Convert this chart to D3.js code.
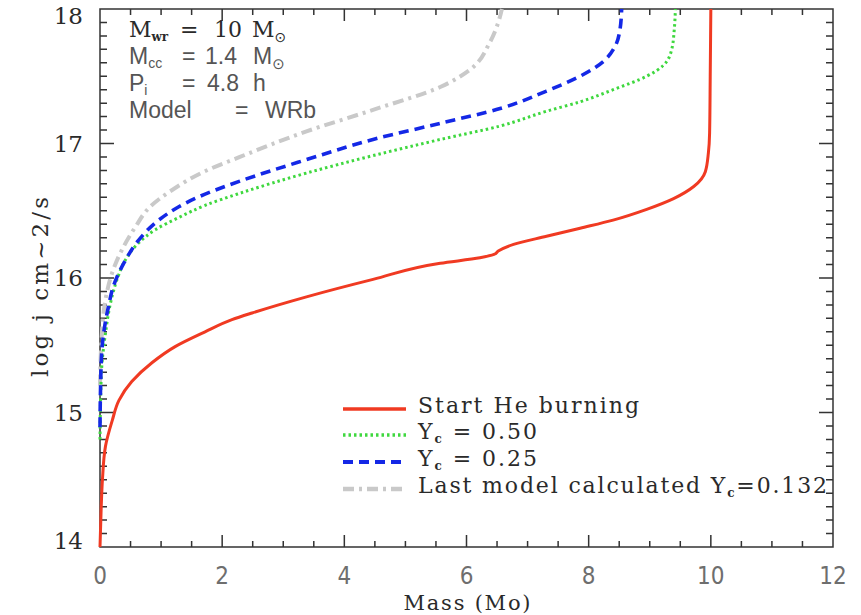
<!DOCTYPE html>
<html>
<head>
<meta charset="utf-8">
<script src="https://cdn.jsdelivr.net/npm/d3@7/dist/d3.min.js"></script>
<style>
  html, body { margin: 0; padding: 0; background: #fff; }
  svg { display: block; }
</style>
</head>
<body>
<script>
// Specific angular momentum profiles, log j versus enclosed mass
const startHeMass = [0, 0.02, 0.04, 0.09, 0.2, 0.31, 0.52, 0.85, 1.23, 1.72, 2.16, 2.49, 3.38, 4.47, 5.57, 6.22, 6.45, 6.52, 6.77, 7.31, 7.86, 8.40, 8.95, 9.39, 9.72, 9.91, 9.96, 9.98, 9.99, 10.0];
const startHeLogJ = [14.0, 14.3, 14.5, 14.75, 14.94, 15.09, 15.23, 15.37, 15.49, 15.60, 15.69, 15.74, 15.86, 15.99, 16.11, 16.15, 16.175, 16.2, 16.25, 16.31, 16.37, 16.43, 16.51, 16.59, 16.68, 16.79, 16.93, 17.08, 17.5, 18.0];

const yc050Mass = [0, 0.01, 0.03, 0.09, 0.17, 0.28, 0.41, 0.63, 0.91, 1.29, 1.72, 2.29, 3.38, 4.47, 5.57, 6.55, 7.31, 7.86, 8.40, 8.95, 9.22, 9.36, 9.40, 9.42];
const yc050LogJ = [14.8, 15.1, 15.35, 15.59, 15.81, 15.99, 16.13, 16.26, 16.36, 16.45, 16.54, 16.63, 16.78, 16.91, 17.03, 17.13, 17.24, 17.31, 17.40, 17.50, 17.58, 17.70, 17.84, 18.0];

const yc025Mass = [0, 0.01, 0.03, 0.08, 0.14, 0.22, 0.39, 0.63, 0.96, 1.29, 1.6, 2.29, 3.38, 4.47, 5.57, 6.55, 7.31, 7.86, 8.24, 8.43, 8.51, 8.54];
const yc025LogJ = [14.89, 15.2, 15.46, 15.65, 15.79, 15.94, 16.11, 16.28, 16.43, 16.53, 16.60, 16.72, 16.88, 17.03, 17.15, 17.26, 17.39, 17.50, 17.61, 17.72, 17.84, 18.0];

const lastMass = [0, 0.02, 0.09, 0.2, 0.36, 0.58, 0.82, 1.2, 1.7, 2.29, 3.38, 4.47, 5.57, 6.06, 6.38, 6.52, 6.58];
const lastLogJ = [15.2, 15.5, 15.84, 16.04, 16.21, 16.38, 16.53, 16.66, 16.79, 16.90, 17.09, 17.25, 17.42, 17.55, 17.75, 17.90, 18.0];

const xTickValues = [0, 2, 4, 6, 8, 10, 12];
const yTickValues = [14, 15, 16, 17, 18];
const xMinorValues = [0.5, 1, 1.5, 2.5, 3, 3.5, 4.5, 5, 5.5, 6.5, 7, 7.5, 8.5, 9, 9.5, 10.5, 11, 11.5];
const yMinorValues = [];
for (let k = 140; k <= 180; k++) if (k % 10 !== 0) yMinorValues.push(k / 10);
const legendLabels = ["Start He burning", "Y_c = 0.50", "Y_c = 0.25", "Last model calculated Y_c=0.132"];

const W = 861, H = 615;
const plot = { left: 100, right: 833, top: 9, bottom: 547 };

const svg = d3.select("body").append("svg").attr("width", W).attr("height", H);

const x = d3.scaleLinear().domain([0, 12]).range([plot.left, plot.right]);
const y = d3.scaleLinear().domain([14, 18]).range([plot.bottom, plot.top]);

const serif = "'DejaVu Serif', 'Liberation Serif', serif";
const sans = "'Liberation Sans', Arial, sans-serif";
const narrow = "'Liberation Sans Narrow', 'DejaVu Sans Condensed', sans-serif";

// Frame plus inward tick marks, all in one path
const fp = d3.path();
fp.rect(plot.left, plot.top, plot.right - plot.left, plot.bottom - plot.top);
function xTick(v, len) {
  fp.moveTo(x(v), plot.bottom); fp.lineTo(x(v), plot.bottom - len);
  fp.moveTo(x(v), plot.top); fp.lineTo(x(v), plot.top + len);
}
function yTick(v, len) {
  fp.moveTo(plot.left, y(v)); fp.lineTo(plot.left + len, y(v));
  fp.moveTo(plot.right, y(v)); fp.lineTo(plot.right - len, y(v));
}
xMinorValues.forEach(v => xTick(v, 6));
xTickValues.forEach(v => xTick(v, 12));
yMinorValues.forEach(v => yTick(v, 7));
yTickValues.forEach(v => yTick(v, 14));
svg.append("path").attr("d", fp.toString())
  .attr("fill", "none").attr("stroke", "#333").attr("stroke-width", 1.5);

// Tick labels
svg.append("g").selectAll("text").data(xTickValues).join("text")
  .attr("x", d => x(d)).attr("y", 584)
  .attr("text-anchor", "middle")
  .attr("font-family", narrow).attr("font-size", 24).attr("fill", "#6e6e6e")
  .text(d3.format("d"));
svg.append("g").selectAll("text").data(yTickValues).join("text")
  .attr("x", 83).attr("y", d => Math.max(16, Math.min(541, y(d)))).attr("dy", "0.36em")
  .attr("text-anchor", "end")
  .attr("font-family", serif).attr("font-size", 23).attr("fill", "#2a2a2a")
  .text(d3.format("d"));

// Curves
svg.append("defs").append("clipPath").attr("id", "plotClip")
  .append("rect").attr("x", plot.left - 2).attr("y", plot.top - 2)
  .attr("width", plot.right - plot.left + 2).attr("height", plot.bottom - plot.top + 2);

const line = d3.line().x(d => x(d[0])).y(d => y(d[1])).curve(d3.curveMonotoneY);
const zip = (a, b) => a.map((v, i) => [v, b[i]]);

const series = [
  { data: zip(lastMass, lastLogJ), color: "#c9c9c9", width: 4, dash: "11,5,3,5" },
  { data: zip(yc050Mass, yc050LogJ), color: "#3fd83f", width: 3, dash: "2.5,3" },
  { data: zip(yc025Mass, yc025LogJ), color: "#1428e6", width: 3.6, dash: "10,6" },
  { data: zip(startHeMass, startHeLogJ), color: "#f03a22", width: 3, dash: null }
];
const curves = svg.append("g").attr("clip-path", "url(#plotClip)");
series.forEach(s => {
  curves.append("path").datum(s.data)
    .attr("d", line).attr("fill", "none")
    .attr("stroke", s.color).attr("stroke-width", s.width)
    .attr("stroke-dasharray", s.dash);
});

// Legend
const legendStyles = [series[3], series[1], series[2], series[0]];
const legendRows = [413, 439, 466, 493];
const legendWidths = [221, 119, 119, 409];
const legend = svg.append("g");
legendLabels.forEach((lab, i) => {
  const st = legendStyles[i];
  legend.append("line")
    .attr("x1", 343).attr("x2", 406).attr("y1", legendRows[i] - 4).attr("y2", legendRows[i] - 4)
    .attr("stroke", st.color).attr("stroke-width", st.width + 0.5)
    .attr("stroke-dasharray", st.dash);
  const t = legend.append("text")
    .attr("x", 418).attr("y", legendRows[i])
    .attr("font-family", serif).attr("font-size", 22).attr("fill", "#2a2a2a")
    .attr("textLength", legendWidths[i]).attr("lengthAdjust", "spacing");
  const m = lab.match(/^(.*?)Y_c(.*)$/);
  if (m) {
    t.append("tspan").text(m[1] + "Y");
    t.append("tspan").attr("font-size", 12).attr("dy", 4).attr("font-weight", "bold").text("c");
    t.append("tspan").attr("dy", -4).text(m[2]);
  } else {
    t.text(lab);
  }
});

// Model parameters
const info = svg.append("g");
const l1 = info.append("text").attr("x", 129).attr("y", 37)
  .attr("font-family", serif).attr("font-size", 22).attr("fill", "#2a2a2a");
l1.append("tspan").text("M");
l1.append("tspan").attr("font-size", 12).attr("font-weight", "bold").attr("dy", 4).text("wr");
l1.append("tspan").attr("x", 180).attr("dy", -4).text("=");
l1.append("tspan").attr("x", 214).text("10");
l1.append("tspan").attr("x", 252).text("M");
l1.append("tspan").attr("font-size", 14).attr("dy", 5).attr("font-family", "'DejaVu Sans', sans-serif").text("\u2299");

const infoSans = [
  { y: 64, parts: [["M", 129], ["cc", null, "sub"], ["=", 182], ["1.4", 205], ["M", 253], ["\u2299", null, "sun"]] },
  { y: 91, parts: [["P", 129], ["i", null, "sub"], ["=", 182], ["4.8", 207], ["h", 253]] },
  { y: 118, parts: [["Model", 129], ["=", 235], ["WRb", 265]] }
];
infoSans.forEach(row => {
  const t = info.append("text").attr("y", row.y)
    .attr("font-family", sans).attr("font-size", 23).attr("fill", "#555");
  let shifted = 0;
  row.parts.forEach(p => {
    const ts = t.append("tspan").text(p[0]);
    if (p[2] === "sub") {
      ts.attr("font-size", 14).attr("dy", 4); shifted = 4;
    } else if (p[2] === "sun") {
      ts.attr("font-size", 15).attr("dy", 5).attr("font-family", "'DejaVu Sans', sans-serif"); shifted = 5;
    } else {
      ts.attr("x", p[1]);
      if (shifted) { ts.attr("dy", -shifted); shifted = 0; }
    }
  });
});

// Axis titles
svg.append("text")
  .attr("x", 467).attr("y", 610)
  .attr("text-anchor", "middle")
  .attr("font-family", serif).attr("font-size", 21).attr("fill", "#2a2a2a")
  .attr("textLength", 127).attr("lengthAdjust", "spacing")
  .text("Mass (Mo)");
svg.append("text")
  .attr("transform", "translate(48,287) rotate(-90)")
  .attr("text-anchor", "middle")
  .attr("font-family", serif).attr("font-size", 23).attr("fill", "#2a2a2a")
  .attr("textLength", 180).attr("lengthAdjust", "spacing")
  .text("log j cm~2/s");
</script>
</body>
</html>
